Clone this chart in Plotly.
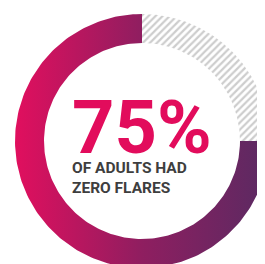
import numpy as np
import plotly.graph_objects as go

labels = ["Zero flares", "Had flares"]
values = [75, 25]
big_label = "75%"
sub_lines = ["OF ADULTS HAD", "ZERO FLARES"]

W, H = 265, 264
cx, cy = 134, 133
r_out, r_in = 127, 98

def ring_segment(start_frac, end_frac, n=200):
    # angles clockwise from 12 o'clock
    a = np.linspace(start_frac, end_frac, n) * 2 * np.pi
    xo = cx + r_out * np.sin(a)
    yo = cy - r_out * np.cos(a)
    xi = cx + r_in * np.sin(a[::-1])
    yi = cy - r_in * np.cos(a[::-1])
    x = np.concatenate([xo, xi, xo[:1]])
    y = np.concatenate([yo, yi, yo[:1]])
    return x, y

total = sum(values)
fig = go.Figure()

# hatched remainder: starts at 12 o'clock going clockwise for 25%
f_had = values[1] / total
x, y = ring_segment(0, f_had)
fig.add_trace(go.Scatter(
    x=x, y=y, mode="lines", fill="toself", line=dict(width=0),
    fillcolor="rgba(0,0,0,0)",
    fillpattern=dict(shape="/", fgcolor="#9c9c9c", bgcolor="white", size=5, solidity=0.45),
    hoverinfo="skip", name=labels[1]))

# gradient main portion
x, y = ring_segment(f_had, 1.0)
fig.add_trace(go.Scatter(
    x=x, y=y, mode="lines", fill="toself", line=dict(width=0),
    fillgradient=dict(type="horizontal",
                      colorscale=[[0, "#e10f5e"], [0.5, "#8f1e60"], [1, "#5a2a62"]],
                      start=cx - r_out, stop=cx + r_out),
    hoverinfo="skip", name=labels[0]))

center_text = (
    f"<span style='font-size:74px;color:#e20c5c'><b>{big_label}</b></span>"
    f"<br><b>{sub_lines[0]}</b><br><b>{sub_lines[1]}</b>"
)
fig.add_annotation(x=62, y=132, xref="x", yref="y", text=center_text,
                   showarrow=False, xanchor="left", yanchor="middle", align="left",
                   font=dict(family="Roboto", size=15.5, color="#3e3e3e"))

fig.update_xaxes(range=[0, W], visible=False, fixedrange=True)
fig.update_yaxes(range=[H, 0], visible=False, fixedrange=True)
fig.update_layout(width=W, height=H, margin=dict(l=0, r=0, t=0, b=0),
                  paper_bgcolor="white", plot_bgcolor="white", showlegend=False)
fig.write_html("out.html")
